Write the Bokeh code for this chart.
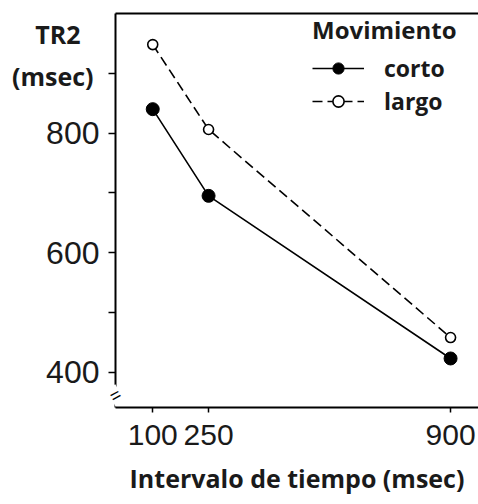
from bokeh.plotting import figure
from bokeh.models import Range1d, LinearAxis, FixedTicker, Label, Legend, LegendItem
from bokeh.embed import file_html
from bokeh.resources import INLINE

# Data
intervals = [100, 250, 900]
corto = [840, 695, 423]
largo = [948, 806, 458]
y_ticks = [400, 500, 600, 700, 800, 900]
y_tick_labels = {400: "400", 500: "", 600: "600", 700: "", 800: "800", 900: ""}
x_ticks = [100, 250, 900]
y_title_lines = {966: "TR2\u00a0\u00a0", 896: "(msec)"}
break_value = 361

TXT = "#1a1a1a"
BOLD_FONT = "Open Sans"
NUM_FONT = "Liberation Sans"

p = figure(width=478, height=504, x_range=Range1d(0, 975), y_range=Range1d(341, 1000),
           output_backend="svg", toolbar_location=None,
           min_border_left=115, min_border_right=0, min_border_top=13, min_border_bottom=97)
p.grid.visible = False
p.outline_line_color = None
p.background_fill_color = "white"
p.border_fill_color = "white"

# axes
yax = p.yaxis[0]
yax.ticker = FixedTicker(ticks=y_ticks)
yax.major_label_overrides = {k: v for k, v in y_tick_labels.items()}
yax.minor_tick_line_color = None
yax.major_tick_in = 0
yax.major_tick_out = 7
yax.axis_line_width = 2
yax.major_tick_line_width = 1.5
yax.major_label_text_font = NUM_FONT
yax.major_label_text_font_size = "32px"
yax.major_label_text_color = TXT
yax.major_label_standoff = 9

xax = p.xaxis[0]
xax.ticker = FixedTicker(ticks=x_ticks)
xax.minor_tick_line_color = None
xax.major_tick_in = 0
xax.major_tick_out = 5
xax.axis_line_width = 2
xax.major_tick_line_width = 1.5
xax.major_label_text_font = NUM_FONT
xax.major_label_text_font_size = "30px"
xax.major_label_text_color = TXT
xax.major_label_standoff = 12
xax.axis_label = "Intervalo de tiempo (msec)"
xax.axis_label_text_font = BOLD_FONT
xax.axis_label_text_font_style = "bold"
xax.axis_label_text_font_size = "25px"
xax.axis_label_text_color = TXT
xax.axis_label_standoff = 13

top = LinearAxis(ticker=FixedTicker(ticks=[]), axis_line_width=2,
                 major_tick_out=0, major_tick_in=0, minor_tick_out=0, minor_tick_in=0,
                 major_label_text_font_size="0px")
p.add_layout(top, "above")

# series
l1 = p.line(intervals, corto, line_color="black", line_width=1.6)
s1 = p.scatter(intervals, corto, size=13, marker="circle", fill_color="black", line_color="black")
l2 = p.line(intervals, largo, line_color="black", line_width=1.6, line_dash="10 5")
s2 = p.scatter(intervals, largo, size=10, marker="circle", fill_color="white", line_color="black", line_width=1.6)

legend = Legend(items=[LegendItem(label="corto", renderers=[l1, s1]),
                       LegendItem(label="largo", renderers=[l2, s2])],
                title="Movimiento", location="top_right")
legend.title_text_font = BOLD_FONT
legend.title_text_font_style = "bold"
legend.title_text_font_size = "24px"
legend.title_text_color = TXT
legend.title_standoff = 6
legend.label_text_font = BOLD_FONT
legend.label_text_font_style = "bold"
legend.label_text_font_size = "23px"
legend.label_text_color = TXT
legend.border_line_color = None
legend.background_fill_alpha = 0
legend.glyph_width = 52
legend.glyph_height = 28
legend.label_height = 28
legend.label_width = 94
legend.label_standoff = 20
legend.spacing = 1
legend.padding = 2
legend.margin = 0
p.add_layout(legend)

# axis break marker (left panel so it is not clipped by the frame)
p.add_layout(Label(x=0, y=break_value, text="=", text_font=NUM_FONT, text_font_size="18px",
                   text_color="black", text_align="center", text_baseline="middle", angle=0.5,
                   background_fill_color="white"), "left")

# y-axis title: an outer label-only axis, pulled inward with a negative standoff
ttl = LinearAxis(ticker=FixedTicker(ticks=list(y_title_lines.keys())),
                 major_label_overrides=dict(y_title_lines),
                 axis_line_color=None, major_tick_line_color=None, minor_tick_line_color=None,
                 major_tick_out=0, major_tick_in=0, minor_tick_out=0, minor_tick_in=0,
                 major_label_standoff=-69)
ttl.major_label_text_font = BOLD_FONT
ttl.major_label_text_font_style = "bold"
ttl.major_label_text_font_size = "25px"
ttl.major_label_text_color = TXT
p.add_layout(ttl, "left")

open("out.html", "w").write(file_html(p, INLINE))
